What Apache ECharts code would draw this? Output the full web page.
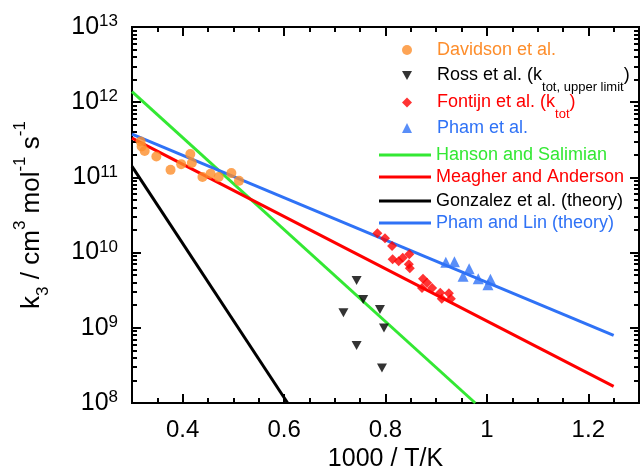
<!DOCTYPE html>
<html><head><meta charset="utf-8">
<script src="https://cdn.jsdelivr.net/npm/echarts@6/dist/echarts.min.js"></script>
<style>html,body{margin:0;padding:0;background:#fff}#c{width:640px;height:469px}</style>
</head><body><div id="c"></div>
<script>
// ---- data ----
const davidsonX = [0.317,0.319,0.325,0.348,0.376,0.397,0.415,0.418,0.439,0.455,0.471,0.496,0.511];
const davidsonY = [3.0e11,2.57e11,2.25e11,1.90e11,1.26e11,1.50e11,2.04e11,1.55e11,1.01e11,1.12e11,1.01e11,1.14e11,9.0e10];
const rossX = [0.743,0.756,0.717,0.789,0.797,0.743,0.793];
const rossY = [4.27e9,2.37e9,1.58e9,1.75e9,9.97e8,5.8e8,2.93e8];
const fontijnX = [0.784,0.799,0.813,0.847,0.814,0.826,0.834,0.846,0.848,0.874,0.882,0.872,0.892,0.908,0.925,0.911,0.929];
const fontijnY = [1.81e10,1.55e10,1.22e10,9.5e9,8.17e9,7.69e9,8.56e9,7.01e9,6.21e9,4.50e9,3.98e9,3.37e9,3.37e9,2.93e9,2.89e9,2.44e9,2.44e9];
const phamX = [0.919,0.936,0.965,0.953,0.983,1.007,1.002];
const phamY = [7.46e9,7.57e9,6.11e9,4.86e9,4.50e9,4.43e9,3.75e9];
const hansonX = [0.3,0.977];   const hansonY = [1.38e12,1e8];
const meagherX = [0.3,1.25];   const meagherY = [3.33e11,1.66e8];
const gonzalezX = [0.3,0.607]; const gonzalezY = [1.40e11,1e8];
const phamLinX = [0.3,1.25];   const phamLinY = [3.76e11,7.94e8];
const xMajorTicks = [0.4,0.6,0.8,1.0,1.2];
const yMinorTicks = [];
for (let e = 8; e < 13; e++) for (let m = 2; m < 10; m++) yMinorTicks.push(m*Math.pow(10,e));
const xMin = 0.3, xMax = 1.3, yMin = 1e8, yMax = 1e13;

const C = {orange:'#fd8d2b', black:'#000000', red:'#ff0000', blue:'#2f72f6', green:'#33e833'};
const FONT = 'Liberation Sans, Arial, sans-serif';
const zip = (a,b)=>a.map((v,i)=>[v,b[i]]);
const downTri = 'path://M0,0L10,0L5,9Z';

const mkScatter = (name, xs, ys, color, symbol, size) => ({
  name, type:'scatter', data: zip(xs,ys), symbol, symbolSize:size,
  itemStyle:{color}, z:5, silent:true
});
const mkLine = (name, xs, ys, color) => ({
  name, type:'line', data: zip(xs,ys), symbol:'none', clip:true,
  lineStyle:{color, width:3}, itemStyle:{color}, z:3, silent:true
});

const legendRich = {
  g:{width:20, fontSize:18, lineHeight:20},
  t:{fontSize:18, lineHeight:20, fontFamily:FONT},
  n:{fontSize:18, lineHeight:37, fontFamily:FONT},
  sb:{fontSize:13, lineHeight:13, verticalAlign:'bottom', fontFamily:FONT}
};
const legendDefs = [
  {name:'Davidson et al.', label:'{g|}{t|Davidson et al.}', color:C.orange, icon:'circle', top:40, left:402, w:10, h:10},
  {name:'Ross et al.', label:'{g|}{n|Ross et al. (k}{sb|tot, upper limit}{n|)}', color:C.black, icon:downTri, top:57, left:402, w:10, h:9},
  {name:'Fontijn et al.', label:'{g|}{n|Fontijn et al. (k}{sb|tot}{n|)}', color:C.red, icon:'diamond', top:84, left:402, w:10, h:10},
  {name:'Pham et al.', label:'{g|}{t|Pham et al.}', color:C.blue, icon:'triangle', top:118, left:402, w:10, h:10},
  {name:'Hanson and Salimian', color:C.green, icon:'rect', top:145, left:379, w:52, h:3},
  {name:'Meagher and Anderson', color:C.red, icon:'rect', top:167, left:379, w:52, h:3},
  {name:'Gonzalez et al. (theory)', color:C.black, icon:'rect', top:191, left:379, w:52, h:3},
  {name:'Pham and Lin (theory)', color:C.blue, icon:'rect', top:213, left:379, w:52, h:3}
];
const legends = legendDefs.map(d => ({
  show:true, orient:'vertical', left:d.left, top:d.top, padding:0,
  itemWidth:d.w, itemHeight:d.h, selectedMode:false, icon:d.icon,
  data:[{name:d.name, icon:d.icon, itemStyle:{color:d.color}}],
  formatter: () => d.label || d.name,
  textStyle:{color:d.color, fontSize:18, lineHeight:20, fontFamily:FONT, rich:legendRich}
}));

const tickStyle = {color:'#000', width:2};
// decoration-only axes (ticks), sharing the main axes' ranges
const xTickAxis = (position, len, extra) => Object.assign({
  type:'value', min:xMin, max:xMax, position, offset:0,
  axisLine:{show:false}, axisLabel:{show:false}, splitLine:{show:false},
  axisTick:{show:true, inside:true, length:len, lineStyle:tickStyle}
}, extra);
const yTickAxis = (position, len, custom) => ({
  type:'log', logBase:10, min:yMin, max:yMax, position, offset:0,
  axisLine:{show:false}, axisLabel:{show:false}, splitLine:{show:false},
  axisTick:Object.assign({show:true, inside:true, length:len, lineStyle:tickStyle}, custom ? {customValues:custom} : {})
});

const chart = echarts.init(document.getElementById('c'), null, {renderer:'canvas'});
chart.setOption({
  animation:false,
  backgroundColor:'#fff',
  grid:{left:132, top:27, width:507, height:376, show:true, borderColor:'#000', borderWidth:2, containLabel:false, outerBoundsMode:'none'},
  legend: legends,
  xAxis:[
    {
      type:'value', min:xMin, max:xMax, interval:0.05, position:'bottom',
      axisLine:{show:true, lineStyle:{color:'#000', width:2}},
      axisTick:{show:true, inside:true, length:5, lineStyle:tickStyle}, splitLine:{show:false},
      axisLabel:{color:'#000', fontSize:24, fontFamily:FONT, margin:15,
        formatter: v => (Math.round(v*100) % 20 === 0 ? String(Math.round(v*10)/10) : '')},
      name:'1000 / T/K', nameLocation:'middle', nameGap:42,
      nameTextStyle:{color:'#000', fontSize:25, fontFamily:FONT}
    },
    xTickAxis('bottom', 9, {axisTick:{show:true, inside:true, length:9, lineStyle:tickStyle, customValues:xMajorTicks}}),
    xTickAxis('top', 5, {interval:0.05}),
    xTickAxis('top', 9, {axisTick:{show:true, inside:true, length:9, lineStyle:tickStyle, customValues:xMajorTicks}})
  ],
  yAxis:[
    {
      type:'log', logBase:10, min:yMin, max:yMax, position:'left',
      axisLine:{show:true, lineStyle:{color:'#000', width:2}},
      axisTick:{show:true, inside:true, length:9, lineStyle:tickStyle}, splitLine:{show:false}, minorTick:{show:false},
      axisLabel:{color:'#000', fontFamily:FONT, margin:14,
        formatter: v => '{b|10}{s|' + Math.round(Math.log10(v)) + '}',
        rich:{ b:{fontSize:25, lineHeight:28, fontFamily:FONT, color:'#000'},
               s:{fontSize:17, lineHeight:17, verticalAlign:'top', fontFamily:FONT, color:'#000'} }},
      name:'{n|k}{sb|3}{n| / cm}{sp|3}{n| mol}{sp|-1}{n| s}{sp|-1}',
      nameLocation:'middle', nameRotate:90, nameGap:80,
      nameTextStyle:{color:'#000', fontFamily:FONT,
        rich:{ n:{fontSize:26, lineHeight:40, fontFamily:FONT, color:'#000'},
               sb:{fontSize:17, lineHeight:17, verticalAlign:'bottom', fontFamily:FONT, color:'#000'},
               sp:{fontSize:17, lineHeight:17, verticalAlign:'top', fontFamily:FONT, color:'#000'} }}
    },
    yTickAxis('left', 5, yMinorTicks),
    yTickAxis('right', 9, null),
    yTickAxis('right', 5, yMinorTicks)
  ],
  series:[
    mkScatter('Davidson et al.', davidsonX, davidsonY, C.orange, 'circle', 10),
    mkScatter('Ross et al.', rossX, rossY, C.black, downTri, [10,9]),
    mkScatter('Fontijn et al.', fontijnX, fontijnY, C.red, 'diamond', 10),
    mkScatter('Pham et al.', phamX, phamY, C.blue, 'triangle', 11),
    mkLine('Hanson and Salimian', hansonX, hansonY, C.green),
    mkLine('Meagher and Anderson', meagherX, meagherY, C.red),
    mkLine('Gonzalez et al. (theory)', gonzalezX, gonzalezY, C.black),
    mkLine('Pham and Lin (theory)', phamLinX, phamLinY, C.blue)
  ]
});
</script></body></html>
